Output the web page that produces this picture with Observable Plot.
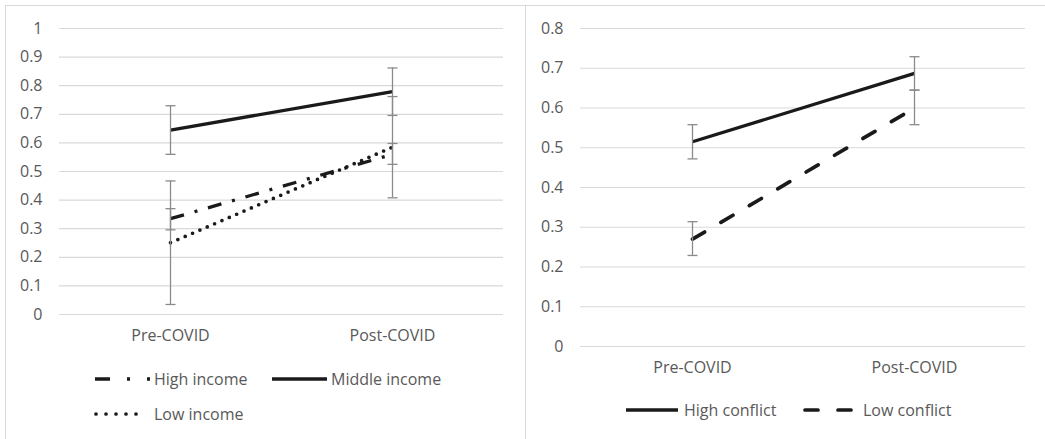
<!DOCTYPE html>
<html><head><meta charset="utf-8">
<script src="https://cdn.jsdelivr.net/npm/d3@7"></script>
<script src="https://cdn.jsdelivr.net/npm/@observablehq/plot@0.6"></script>
<style>
body{margin:0;background:#fff;width:1045px;height:439px;overflow:hidden;position:relative;font-family:"Open Sans",sans-serif;}
.frame{position:absolute;border-top:1px solid #d9d9d9;border-left:1px solid #d9d9d9;}
.plot{position:absolute;}
.legend{position:absolute;left:0;top:0;}
</style></head><body>
<div class="frame" style="left:5px;top:5px;width:1040px;height:440px"></div>
<div class="frame" style="left:525px;top:5px;width:520px;height:440px;border-top:none"></div>
<div id="left" class="plot" style="left:6px;top:6px"></div>
<div id="right" class="plot" style="left:527px;top:6px"></div>
<svg class="legend" id="legend" width="1045" height="439"></svg>
<script>
// ---- data ----
const periods = ["Pre-COVID", "Post-COVID"];
const incomeSeries = ["High income", "Middle income", "Low income"];
const highIncome = [0.335, 0.56];
const highIncomeLo = [0.296, 0.525];
const highIncomeHi = [0.370, 0.598];
const middleIncome = [0.645, 0.779];
const middleIncomeLo = [0.560, 0.696];
const middleIncomeHi = [0.730, 0.862];
const lowIncome = [0.251, 0.585];
const lowIncomeLo = [0.035, 0.408];
const lowIncomeHi = [0.467, 0.762];
const incomeTicks = [0, 0.1, 0.2, 0.3, 0.4, 0.5, 0.6, 0.7, 0.8, 0.9, 1];

const conflictSeries = ["High conflict", "Low conflict"];
const highConflict = [0.515, 0.687];
const highConflictLo = [0.472, 0.645];
const highConflictHi = [0.558, 0.729];
const lowConflict = [0.270, 0.600];
const lowConflictLo = [0.229, 0.558];
const lowConflictHi = [0.314, 0.645];
const conflictTicks = [0, 0.1, 0.2, 0.3, 0.4, 0.5, 0.6, 0.7, 0.8];

function rows(name, v, lo, hi){ return periods.map((p,i)=>({series:name, period:p, value:v[i], lo:lo[i], hi:hi[i]})); }
const incomeData = [
  ...rows(incomeSeries[0], highIncome, highIncomeLo, highIncomeHi),
  ...rows(incomeSeries[1], middleIncome, middleIncomeLo, middleIncomeHi),
  ...rows(incomeSeries[2], lowIncome, lowIncomeLo, lowIncomeHi)
];
const conflictData = [
  ...rows(conflictSeries[0], highConflict, highConflictLo, highConflictHi),
  ...rows(conflictSeries[1], lowConflict, lowConflictLo, lowConflictHi)
];

// ---- styles ----
const INK = "#1a1a1a", GRID = "#d9d9d9", ERR = "#8a8a8a", TXT = "#595959";
const FS = 16;
const styles = {
  "High income":  {strokeDasharray:"14,11,3,11", strokeLinecap:"butt", strokeWidth:3.3},
  "Middle income":{strokeDasharray:null, strokeLinecap:"butt", strokeWidth:3.3},
  "Low income":   {strokeDasharray:"0,8", strokeLinecap:"round", strokeWidth:3.7},
  "High conflict":{strokeDasharray:null, strokeLinecap:"butt", strokeWidth:3.3},
  "Low conflict": {strokeDasharray:"14,19", strokeLinecap:"round", strokeWidth:3.7}
};
const capSymbol = {draw(ctx){ ctx.moveTo(-5,0); ctx.lineTo(5,0); }};

function panel(data, series, ticks, yMax, opts){
  const marks = [
    Plot.ruleY(ticks, {stroke:GRID, strokeWidth:1.2})
  ];
  for (const s of series){
    marks.push(Plot.line(data.filter(d=>d.series===s), {x:"period", y:"value", stroke:INK, ...styles[s]}));
  }
  marks.push(Plot.ruleX(data, {x:"period", y1:"lo", y2:"hi", stroke:ERR, strokeWidth:1.3}));
  marks.push(Plot.dot(data, {x:"period", y:"lo", symbol:capSymbol, stroke:ERR, strokeWidth:1.3, r:3}));
  marks.push(Plot.dot(data, {x:"period", y:"hi", symbol:capSymbol, stroke:ERR, strokeWidth:1.3, r:3}));
  return Plot.plot({
    width: opts.width, height: opts.height,
    marginLeft: 53, marginRight: opts.width - 497 + (opts.shift||0), marginTop: 22, marginBottom: 37,
    style:{fontFamily:"'Open Sans', sans-serif", fontSize:FS+"px", color:TXT, background:"transparent", overflow:"visible"},
    x:{type:"point", domain:periods, padding:0.5, label:null, tickSize:0, tickPadding:15},
    y:{domain:[0,yMax], ticks:ticks, label:null, tickSize:0, tickPadding:17, tickFormat:d=>String(d)},
    marks
  });
}

document.getElementById("left").append(panel(incomeData, incomeSeries, incomeTicks, 1, {width:515, height:345}));
document.getElementById("right").append(panel(conflictData, conflictSeries, conflictTicks, 0.8, {width:513, height:377, shift:-1}));

// ---- legends ----
const lg = d3.select("#legend");
function item(x1, x2, y, tx, label, st, dash){
  lg.append("line").attr("x1",x1).attr("x2",x2).attr("y1",y).attr("y2",y)
    .attr("stroke",INK).attr("stroke-width",st.strokeWidth)
    .attr("stroke-linecap",st.strokeLinecap)
    .attr("stroke-dasharray", dash===undefined ? st.strokeDasharray : dash);
  lg.append("text").attr("x",tx).attr("y",y).attr("dy","0.35em")
    .attr("fill",TXT).attr("font-size",FS).attr("font-family","'Open Sans', sans-serif").text(label);
}
item(95, 152, 379, 154, incomeSeries[0], styles["High income"], "15,17,3,17,3,20");
item(272, 327, 379, 331, incomeSeries[1], styles["Middle income"]);
item(96, 146, 414, 154, incomeSeries[2], styles["Low income"], "0,10");
item(626, 678, 410, 684, conflictSeries[0], styles["High conflict"]);
item(805, 853, 410, 863, conflictSeries[1], styles["Low conflict"], "13,20");
</script>
</body></html>
